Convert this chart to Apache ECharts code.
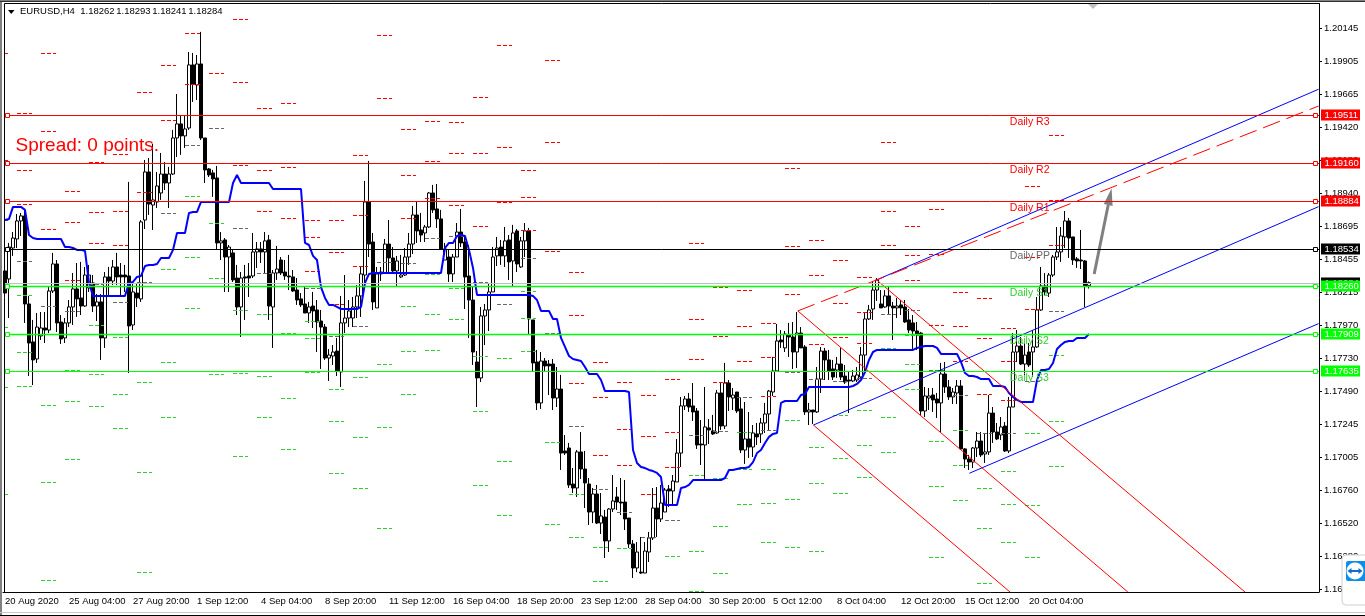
<!DOCTYPE html>
<html><head><meta charset="utf-8">
<style>html,body{margin:0;padding:0;background:#fff}#c{width:1365px;height:616px}</style>
<script src="https://cdn.jsdelivr.net/npm/echarts@6/dist/echarts.min.js"></script>
</head><body><div id="c"></div>
<script>
const tickLabels=["20 Aug 2020","25 Aug 04:00","27 Aug 20:00","1 Sep 12:00","4 Sep 04:00","8 Sep 20:00","11 Sep 12:00","16 Sep 04:00","18 Sep 20:00","23 Sep 12:00","28 Sep 04:00","30 Sep 20:00","5 Oct 12:00","8 Oct 04:00","12 Oct 20:00","15 Oct 12:00","20 Oct 04:00"];
const priceTicks=[1.20145,1.19905,1.19665,1.1942,1.1918,1.1894,1.18695,1.18455,1.18215,1.1797,1.1773,1.1749,1.17245,1.17005,1.1676,1.1652,1.1628,1.1604];
const highs=[1.1856,1.18575,1.18655,1.18787,1.18795,1.18817,1.18187,1.18011,1.18062,1.18069,
1.18069,1.18252,1.18502,1.1845,1.18047,1.18025,1.18157,1.18355,1.18428,1.18436,
1.18399,1.18414,1.1834,1.18201,1.18201,1.18362,1.18399,1.1845,1.18502,1.18428,
1.18414,1.19022,1.18282,1.18282,1.18743,1.19183,1.19197,1.193,1.19095,1.19234,
1.19168,1.19132,1.19403,1.19666,1.19512,1.19512,1.19974,1.19967,1.19952,1.20121,
1.19344,1.19124,1.1911,1.19139,1.18655,1.18611,1.1856,1.18524,1.18414,1.18362,
1.18414,1.18428,1.18648,1.18582,1.18582,1.18655,1.18633,1.18377,1.18553,1.18472,
1.1845,1.18487,1.18377,1.18318,1.18208,1.18252,1.18143,1.18216,1.18157,1.18084,
1.17981,1.17798,1.17827,1.17879,1.18187,1.1834,1.18157,1.18179,1.18267,1.18406,
1.19029,1.19176,1.18648,1.18399,1.18399,1.18604,1.18743,1.18545,1.1848,1.18487,
1.18538,1.18648,1.18846,1.18875,1.18795,1.18707,1.18948,1.19,1.19007,1.18817,
1.18575,1.18524,1.18494,1.18721,1.18824,1.18633,1.1856,1.18252,1.17783,1.18106,
1.18128,1.18282,1.18545,1.18619,1.18597,1.18692,1.18633,1.18707,1.18677,1.18619,
1.18721,1.18685,1.18011,1.17791,1.17776,1.17732,1.17718,1.17725,1.17666,1.17608,
1.17168,1.1711,1.16926,1.17058,1.1719,1.17051,1.16853,1.1678,1.16802,1.16743,
1.16619,1.16633,1.16875,1.16787,1.16853,1.16838,1.1656,1.16399,1.16384,1.16421,
1.16384,1.16458,1.1678,1.16787,1.16802,1.1678,1.16802,1.16875,1.17139,1.17447,
1.17454,1.17476,1.17549,1.17366,1.17278,1.1752,1.17285,1.17315,1.17498,1.17549,
1.17696,1.17571,1.17512,1.17483,1.17439,1.1741,1.17337,1.17241,1.17256,1.17293,
1.17403,1.17498,1.1774,1.17981,1.17937,1.1793,1.17989,1.17996,1.18069,1.17959,
1.17827,1.17403,1.17351,1.17666,1.17813,1.17806,1.17791,1.17718,1.1774,1.17806,
1.17681,1.1763,1.17644,1.17666,1.17813,1.18069,1.18121,1.18289,1.18318,1.1823,
1.1823,1.1826,1.18143,1.18172,1.18157,1.18157,1.18091,1.18047,1.17996,1.17923,
1.1752,1.17512,1.17512,1.17476,1.17696,1.17703,1.17571,1.17512,1.17571,1.17571,
1.17073,1.17022,1.1708,1.1719,1.1719,1.17183,1.17461,1.17373,1.17256,1.173,
1.17263,1.17447,1.17915,1.17937,1.17886,1.17842,1.17842,1.17937,1.18179,1.18399,
1.18355,1.18355,1.18487,1.18692,1.18692,1.18809,1.18758,1.18619,1.18472,1.1867,1.1845,1.18293];
const lows=[1.18208,1.18025,1.1848,1.18538,1.18626,1.17989,1.176,1.17534,1.17696,1.17864,
1.17842,1.17915,1.18208,1.17923,1.17835,1.17842,1.17959,1.17974,1.18033,1.18047,
1.18106,1.18216,1.18069,1.18003,1.17718,1.17806,1.18179,1.18267,1.18267,1.18179,
1.18216,1.17622,1.17937,1.18106,1.18143,1.18677,1.1878,1.1867,1.18831,1.1889,
1.18963,1.18831,1.19073,1.19205,1.1922,1.19271,1.19403,1.19608,1.19622,1.19329,
1.19014,1.19058,1.18912,1.18524,1.1845,1.18216,1.18216,1.18289,1.18047,1.17886,
1.18011,1.18179,1.18318,1.18392,1.18428,1.18355,1.18011,1.17806,1.18304,1.1834,
1.18304,1.1823,1.18216,1.18121,1.18106,1.18062,1.17989,1.17952,1.17776,1.17652,
1.17718,1.17564,1.17681,1.176,1.1752,1.17915,1.17959,1.17959,1.18025,1.18033,
1.18282,1.18472,1.18084,1.18099,1.18296,1.18348,1.18355,1.18355,1.1826,1.18318,
1.18333,1.18414,1.18494,1.18575,1.18582,1.18582,1.18685,1.18795,1.18685,1.18524,
1.1845,1.18289,1.18289,1.18472,1.18545,1.18091,1.17879,1.17681,1.17373,1.17556,
1.17827,1.1793,1.18216,1.18406,1.18414,1.18399,1.18304,1.1826,1.18362,1.18392,
1.18472,1.17908,1.1763,1.17351,1.17359,1.1763,1.17461,1.17351,1.17373,1.16912,
1.17022,1.1678,1.16743,1.16714,1.16846,1.16633,1.16509,1.16523,1.16516,1.16443,
1.16267,1.16311,1.16604,1.16619,1.16582,1.16472,1.1634,1.16121,1.16164,1.1615,
1.16157,1.16238,1.16399,1.16421,1.16531,1.16604,1.16641,1.16655,1.16824,1.16934,
1.17351,1.17337,1.17271,1.17066,1.16948,1.16846,1.17102,1.17168,1.17176,1.17205,
1.17212,1.17344,1.17351,1.17329,1.17036,1.16956,1.17,1.17007,1.17095,1.1711,
1.17183,1.17205,1.17454,1.17637,1.17806,1.17776,1.1774,1.17652,1.17659,1.17806,
1.17315,1.17241,1.17249,1.17329,1.17476,1.17571,1.17571,1.17571,1.17586,1.17571,
1.17542,1.17329,1.17556,1.17556,1.17586,1.17622,1.18011,1.18011,1.1815,1.18099,
1.18099,1.18055,1.17864,1.18025,1.18047,1.17989,1.17915,1.17791,1.17791,1.17315,
1.173,1.17351,1.17337,1.17293,1.1719,1.17476,1.17425,1.17395,1.17395,1.17058,
1.16926,1.16912,1.16926,1.17007,1.17007,1.16963,1.17022,1.1711,1.17131,1.17131,
1.17044,1.17036,1.17373,1.17703,1.17681,1.17608,1.17666,1.17593,1.17806,1.18077,
1.18194,1.18179,1.18326,1.1845,1.18436,1.18538,1.18465,1.18414,1.18392,1.18384,1.18106,1.18241];
const opens=[1.1837,1.18311,1.18538,1.18604,1.18736,1.18773,1.18128,1.1785,1.17725,1.17894,
1.17952,1.17937,1.18223,1.18421,1.17996,1.17879,1.17989,1.18106,1.18238,1.18172,
1.18113,1.18245,1.18282,1.18113,1.18143,1.17879,1.18326,1.18296,1.18399,1.1834,
1.1834,1.18333,1.17974,1.18208,1.18165,1.18743,1.19095,1.18853,1.18875,1.18941,
1.1908,1.19014,1.1908,1.19344,1.19447,1.19359,1.19417,1.19879,1.19732,1.19886,
1.19344,1.19117,1.19088,1.19051,1.18575,1.18597,1.18472,1.18502,1.18318,1.18106,
1.18326,1.18333,1.18333,1.18509,1.18531,1.18509,1.18597,1.18106,1.18355,1.1845,
1.18362,1.18333,1.18326,1.1823,1.18165,1.18128,1.18062,1.18113,1.18084,1.18003,
1.17959,1.17732,1.17747,1.17783,1.1763,1.17989,1.18025,1.18025,1.18106,1.18187,
1.1834,1.18875,1.18582,1.18099,1.18362,1.18355,1.18567,1.18465,1.1837,1.18326,
1.1834,1.18472,1.18567,1.1878,1.1867,1.18648,1.18692,1.18941,1.18824,1.18751,
1.1845,1.18472,1.18348,1.18472,1.18655,1.18582,1.18333,1.18157,1.17703,1.17586,
1.1804,1.18084,1.18216,1.1848,1.18545,1.1848,1.18597,1.18443,1.18663,1.18399,
1.1859,1.18663,1.18011,1.17703,1.17403,1.1771,1.17688,1.17688,1.17439,1.17505,
1.17051,1.17073,1.16809,1.1678,1.17044,1.16919,1.16809,1.16604,1.16736,1.16523,
1.16567,1.16392,1.16626,1.16714,1.16677,1.16677,1.1656,1.1637,1.16194,1.16164,
1.16157,1.16311,1.16414,1.16633,1.16553,1.16604,1.16773,1.16758,1.16824,1.17036,
1.17381,1.17432,1.17381,1.17344,1.17102,1.17095,1.1722,1.17198,1.17183,1.17476,
1.17234,1.17549,1.17439,1.17483,1.17359,1.17058,1.17139,1.1708,1.17176,1.17176,
1.17256,1.17322,1.17483,1.17637,1.17864,1.17806,1.17901,1.17886,1.17776,1.17915,
1.17813,1.17337,1.17351,1.17337,1.17578,1.17783,1.17718,1.17652,1.17644,1.17688,
1.176,1.17571,1.17564,1.17571,1.17593,1.17754,1.18018,1.18091,1.1823,1.18128,
1.18106,1.18187,1.18113,1.18099,1.18121,1.18106,1.18011,1.17989,1.1793,1.17915,
1.17344,1.17439,1.17461,1.17432,1.17403,1.17615,1.1752,1.17447,1.17476,1.17527,
1.17066,1.16992,1.1697,1.17073,1.17124,1.17029,1.17044,1.17329,1.1719,1.17168,
1.17234,1.17051,1.17373,1.17776,1.1782,1.17688,1.17776,1.17776,1.17813,1.18084,
1.1826,1.18208,1.1834,1.18472,1.18509,1.18619,1.18736,1.18619,1.18458,1.1845,1.18443,1.18262];
const closes=[1.18208,1.18545,1.18611,1.18736,1.18773,1.18128,1.17842,1.17718,1.17959,1.17952,
1.17937,1.18223,1.18421,1.17989,1.17872,1.17989,1.18106,1.18238,1.18165,1.18113,
1.1834,1.1834,1.18113,1.18143,1.17879,1.18326,1.18296,1.18399,1.18326,1.18326,
1.18326,1.17967,1.18216,1.18172,1.18729,1.19095,1.1886,1.1889,1.18992,1.1908,
1.19014,1.1908,1.19344,1.19447,1.19359,1.1941,1.19879,1.1974,1.19886,1.19344,
1.1911,1.19073,1.19044,1.18575,1.1859,1.18472,1.18545,1.18304,1.18106,1.18318,
1.18318,1.18318,1.18509,1.18531,1.18509,1.1859,1.18113,1.18355,1.18384,1.18355,
1.18333,1.18326,1.18223,1.18157,1.18121,1.18062,1.18106,1.18077,1.17996,1.17959,
1.17732,1.17754,1.17776,1.17637,1.17989,1.18025,1.18077,1.18106,1.18187,1.18348,
1.18875,1.18567,1.18143,1.18348,1.18348,1.18567,1.18465,1.1837,1.18443,1.1834,
1.18472,1.18567,1.1878,1.18663,1.18633,1.18692,1.18941,1.18817,1.18751,1.18531,
1.18531,1.18348,1.18472,1.18655,1.18575,1.18326,1.18157,1.17776,1.17586,1.1804,
1.18084,1.18216,1.18472,1.18538,1.1848,1.1859,1.18436,1.18648,1.18421,1.1859,
1.18663,1.18018,1.17696,1.17403,1.1771,1.17674,1.17674,1.17439,1.17505,1.17036,
1.17036,1.16802,1.1678,1.17044,1.16919,1.16817,1.16604,1.16736,1.16523,1.16575,
1.16392,1.16626,1.16685,1.16677,1.1667,1.16553,1.1637,1.16194,1.16311,1.16157,
1.16318,1.16414,1.16633,1.16553,1.1667,1.16765,1.16758,1.16831,1.17036,1.17381,
1.17432,1.17373,1.17337,1.17095,1.17095,1.17227,1.17205,1.17176,1.17476,1.17234,
1.17549,1.17447,1.17461,1.17344,1.17058,1.17139,1.1708,1.17183,1.17154,1.17256,
1.17322,1.1749,1.17637,1.17857,1.1785,1.17908,1.17886,1.17776,1.17915,1.17806,
1.17337,1.17351,1.17337,1.17578,1.17783,1.17718,1.17637,1.17593,1.17688,1.17593,
1.17556,1.17564,1.176,1.17608,1.17754,1.18018,1.18084,1.1823,1.18304,1.18099,
1.18187,1.18113,1.18099,1.18113,1.18099,1.17996,1.17937,1.1793,1.17908,1.17344,
1.17454,1.17454,1.17425,1.17403,1.17615,1.1752,1.17447,1.17483,1.17527,1.17066,
1.16992,1.1697,1.17073,1.17124,1.17022,1.17044,1.17329,1.1719,1.17139,1.17227,
1.17051,1.17373,1.17776,1.1782,1.17688,1.17754,1.17681,1.17813,1.18084,1.1826,
1.18216,1.1834,1.18472,1.18509,1.18626,1.18736,1.18611,1.1845,1.18443,1.18443,1.1826,1.18284];
const kijun=[1.18743,1.18751,1.18839,1.18839,1.18839,1.18817,1.18633,1.18611,1.18604,1.18604,1.18604,1.18604,1.18604,1.18604,1.18604,1.18545,1.18545,1.18538,1.18524,1.18524,1.18516,1.18282,
1.18187,1.18187,1.18187,1.18187,1.18187,1.18187,1.18187,1.18187,1.18187,1.18282,1.18289,1.18326,1.18333,1.18406,1.18414,1.18414,1.18421,1.18465,1.18465,1.18465,1.18524,1.18648,1.18648,1.18648,1.18795,1.18802,1.18802,
1.18875,1.18875,1.18875,1.18875,1.18875,1.18875,1.18875,1.18875,1.19014,1.19073,1.19014,1.19014,1.19014,1.19014,1.19014,1.19014,1.19014,1.19014,1.1897,1.1897,1.1897,1.1897,1.1897,1.1897,1.1897,1.1897,
1.18575,1.1856,1.1848,1.1845,1.18252,1.18172,1.18121,1.18121,1.18106,
1.18091,1.18091,1.18091,1.18091,1.18091,1.18106,1.18282,1.18348,1.18355,1.18355,1.18355,1.18355,1.18355,1.18355,1.18355,1.18355,1.18355,1.18355,1.18355,1.18355,1.18355,1.18355,1.18355,1.18355,1.18355,1.18355,
1.18538,1.18575,1.18575,1.18626,1.18633,1.18626,1.18524,1.18392,1.18194,1.18194,1.18194,1.18194,1.18194,1.18194,1.18194,1.18194,1.18194,1.18194,1.18194,1.18194,1.18194,1.18194,1.18187,1.18157,1.18077,1.18077,1.18077,1.18018,1.18018,
1.17879,1.17813,1.17747,1.17725,1.17718,1.1771,1.17666,1.17615,1.17615,1.17615,1.17571,1.1749,1.1749,1.1749,1.1749,1.1749,1.1749,1.17483,1.17058,1.16963,1.16934,1.16926,1.16912,1.16904,1.1689,1.1686,
1.16655,1.16655,1.16655,1.16655,1.1678,1.16787,1.16802,1.16838,1.16838,1.16838,1.16838,1.16838,1.16838,1.16838,1.16838,1.16853,1.16912,1.16912,1.16919,1.16926,1.16926,1.16934,1.1697,1.17036,1.17058,1.1711,1.17154,1.17176,1.17183,1.17403,
1.17417,1.17417,1.17417,1.17417,1.17461,1.17469,1.1752,1.1752,1.1752,1.1752,1.1752,1.1752,1.1752,1.1752,1.1752,1.1752,1.1752,1.17527,1.17542,1.17571,1.1763,1.17718,1.17776,
1.17791,1.17791,1.17791,1.17791,1.17791,1.17791,1.17791,1.17791,1.17791,1.17791,1.17806,1.17813,1.1782,1.1782,1.1782,1.17806,1.17762,1.17762,1.17762,1.17762,1.17762,1.17703,1.17622,1.176,1.176,1.17593,1.17578,1.17578,1.17578,
1.17527,1.17527,1.17527,1.1752,1.17476,1.17447,1.17425,1.1741,1.1741,1.1741,1.1741,1.17571,1.17644,1.17644,1.17652,1.17696,1.17798,1.17827,1.1785,1.17857,1.17857,1.17879,1.17879,1.17879,1.17908];
const dailyR3=[null,1.19527,1.19967,1.18956,1.19168,1.19227,null,null,null,null,1.20216,1.19564,1.196,1.18743,1.18743,1.1922,1.20099,1.1941,1.19469,1.19461,1.19644,1.20025,1.1911,1.19915,1.18362,1.17703,1.17556,1.17461,1.17578,1.18575,1.18252,1.1823,1.17989,1.19124,1.18597,1.1845,1.18326,1.19315,1.18699,1.18824,1.18216,1.18172,1.17952,1.18992,1.19366,1.19511];
const dailyR2=[1.19967,1.1911,1.19395,1.18729,1.18802,1.18809,1.19681,1.19879,1.20113,null,1.19754,1.1911,1.19132,1.18619,1.18509,1.1878,1.19637,1.19073,1.19176,1.19234,1.19234,1.19278,1.18912,1.19315,1.18047,1.17447,1.17212,1.17161,1.1719,1.18018,1.17894,1.17967,1.1774,1.18553,1.1834,1.18135,1.18069,1.18809,1.18487,1.18494,1.17967,1.17879,1.1771,1.18472,1.1889,1.1916];
const dailyR1=[1.19183,1.1886,1.18677,1.18304,1.18575,1.1856,1.18948,1.19476,1.1974,1.1982,1.19146,1.18809,1.18758,1.1837,1.18128,1.18406,1.18882,1.18758,1.18904,1.18853,1.18699,1.18875,1.1867,1.18516,1.17549,1.17022,1.16948,1.16736,1.16934,1.17725,1.17556,1.1771,1.17454,1.18201,1.17835,1.17886,1.17842,1.1856,1.18304,1.17974,1.1771,1.17468,1.17425,1.18091,1.1856,1.18884];
const dailyPP=[1.18743,1.18443,1.18113,1.18077,1.18274,1.18143,1.18289,1.18795,1.19293,1.19417,1.18685,1.18355,1.18282,1.18245,1.17894,1.17967,1.18436,1.18428,1.18611,1.18626,1.18289,1.18128,1.18465,1.17915,1.17234,1.16773,1.16604,1.16421,1.16545,1.17168,1.17198,1.17447,1.17205,1.1763,1.17578,1.17564,1.17586,1.18055,1.18084,1.17644,1.17461,1.17183,1.17183,1.17564,1.18077,1.18534];
const dailyS1=[1.17959,1.18194,1.17388,1.17644,1.17974,1.17886,1.17556,1.18384,1.18919,1.18721,1.18084,1.18055,1.17915,1.18003,1.17505,1.17593,1.17688,1.18113,1.18348,1.18245,1.17747,1.17732,1.18223,1.17117,1.16736,1.16348,1.1634,null,1.16282,1.16875,1.16853,1.1719,1.16919,1.17278,1.1708,1.17315,1.17351,1.17806,1.17901,1.17124,1.17205,1.1678,1.16904,1.17183,1.17754,1.1826];
const dailyS2=[1.1752,1.17776,1.16824,1.17417,1.17615,1.17469,1.16897,1.17703,1.18472,1.18318,1.17622,1.176,1.17439,1.17879,1.17271,1.17154,1.17227,1.17783,1.18055,1.18018,1.17344,1.16978,1.18025,1.16516,1.16421,1.16099,null,null,null,1.16318,1.16501,1.16919,1.1667,1.16699,1.16817,1.17,1.17095,1.173,1.17688,1.16795,1.16948,1.16487,1.16663,1.16655,1.17271,1.17909];
const dailyS3=[1.16736,1.17527,1.16106,1.16992,1.17381,1.1722,1.16164,1.173,1.18099,1.17615,1.17014,1.173,1.17066,1.1763,1.1689,1.1678,1.16487,1.17469,1.17791,1.17637,1.16802,1.16582,1.17783,null,null,null,null,null,null,1.16025,1.16157,1.16663,1.16384,1.16348,1.16318,1.16743,1.1686,1.17044,1.17505,1.16274,1.16692,1.16084,1.16384,1.16274,1.16941,1.17635];
const levelPrices=[1.18284,1.19511,1.1916,1.18884,1.18534,1.1826,1.17909,1.17635];
const levelNames=["","Daily R3","Daily R2","Daily R1","Daily PP","Daily S1","Daily S2","Daily S3"];
const levelColors=["#c0c0c0","#ff0000","#ff0000","#ff0000","#000000","#00ff00","#00ff00","#00ff00"];
const tagColors=["#000000","#ff0000","#ff0000","#ff0000","#000000","#00ff00","#00ff00","#00ff00"];
const nameColors=["","#ff0000","#ff0000","#ff0000","#696969","#32cd32","#32cd32","#32cd32"];
const blueUpper=[[217.9,1.18304],[328.4,1.19701]];
const blueMiddle=[[202.1,1.17241],[328.4,1.18841]];
const blueLower=[[241.1,1.16888],[328.4,1.17984]];
const redDashed=[[198.2,1.18077],[328.4,1.19578]];
const redA=[[217.9,1.18304],[310,1.16018]];
const redB=[[198.2,1.18077],[280.7,1.16018]];
const redC=[[202.1,1.17241],[251.25,1.16018]];
const arrowPoints=[[272.3,1.18348,276.65,1.18975]];
const headerQuote=["1.18262","1.18293","1.18241","1.18284"];

const FONT='"Liberation Sans",Arial,sans-serif';
const totalBands=329;
const categories=[];for(let i=0;i<totalBands;i++){categories.push(i%16===0&&tickLabels[i/16]?tickLabels[i/16]:"");}
const showTick=i=>i%16===0&&!!tickLabels[i/16];
const candleData=opens.map((o,i)=>[o,closes[i],lows[i],highs[i]]);
const pivotRows=[[dailyR3,"#ff0000"],[dailyR2,"#ff0000"],[dailyR1,"#ff0000"],[dailyPP,"#696969"],[dailyS1,"#32cd32"],[dailyS2,"#32cd32"],[dailyS3,"#32cd32"]];
const pivotData=[];
pivotRows.forEach((row,r)=>row[0].forEach((p,d)=>{if(p!=null)pivotData.push([-3+6*d,p,r]);}));
const mkLine=(name,data,color,type)=>({name,type:'line',xAxisIndex:1,yAxisIndex:0,data,symbol:'none',silent:true,z:4,clip:true,
  lineStyle:{color,width:1,type:type||'solid'},itemStyle:{color}});

const chart=echarts.init(document.getElementById('c'),null,{renderer:'canvas'});
chart.setOption({
 animation:false,backgroundColor:'#ffffff',textStyle:{fontFamily:FONT},
 grid:{left:3,right:46,top:3.5,bottom:24,containLabel:false},
 xAxis:[{type:'category',data:categories,boundaryGap:true,
   axisLine:{lineStyle:{color:'#000',width:1}},
   axisTick:{alignWithLabel:true,interval:(i)=>showTick(i),length:3,lineStyle:{color:'#000'}},
   axisLabel:{interval:(i)=>showTick(i),align:'left',margin:4,fontSize:9.5,color:'#000',fontFamily:FONT,hideOverlap:false,showMinLabel:true},
   splitLine:{show:false}},
  {type:'value',min:-0.5,max:328.5,show:false,splitLine:{show:false}}],
 yAxis:[{type:'value',position:'right',min:1.16018,max:1.20329,scale:true,
   axisLine:{show:true,onZero:false,lineStyle:{color:'#000',width:1}},
   axisTick:{show:true,length:3,customValues:priceTicks,lineStyle:{color:'#000'}},
   axisLabel:{customValues:priceTicks,margin:5,fontSize:9.5,color:'#000',fontFamily:FONT,formatter:v=>v.toFixed(5),showMinLabel:true,showMaxLabel:true},
   splitLine:{show:false}}],
 series:[
  {name:'EURUSD',type:'candlestick',data:candleData,barWidth:3,z:2,silent:true,
   itemStyle:{color:'#ffffff',color0:'#000000',borderColor:'#000000',borderColor0:'#000000',borderWidth:1}},
  {name:'Pivots',type:'custom',xAxisIndex:1,yAxisIndex:0,data:pivotData,clip:true,silent:true,z:3,
   renderItem:(params,api)=>{const a=api.coord([api.value(0),api.value(1)]);const b=api.coord([api.value(0)+3.75,api.value(1)]);
    const y=Math.round(a[1])+.5;
    return {type:'line',shape:{x1:a[0],y1:y,x2:b[0],y2:y},style:{stroke:pivotRows[api.value(2)][1],lineWidth:1,lineDash:[4,2]}};}},
  {name:'Baseline',type:'line',data:kijun,symbol:'none',silent:true,z:4,lineStyle:{color:'#0000ff',width:2},itemStyle:{color:'#0000ff'}},
  mkLine('Channel upper',blueUpper,'#0000ff'),
  mkLine('Channel middle',blueMiddle,'#0000ff'),
  mkLine('Channel lower',blueLower,'#0000ff'),
  mkLine('Fork median',redDashed,'#ff0000',[18,7]),
  mkLine('Fork A',redA,'#ff0000'),
  mkLine('Fork B',redB,'#ff0000'),
  mkLine('Fork C',redC,'#ff0000'),
  {name:'Arrow',type:'custom',xAxisIndex:1,yAxisIndex:0,data:arrowPoints,clip:false,silent:true,z:5,
   renderItem:(params,api)=>{const a=api.coord([api.value(0),api.value(1)]),b=api.coord([api.value(2),api.value(3)]);
    const dx=b[0]-a[0],dy=b[1]-a[1],l=Math.hypot(dx,dy),ux=dx/l,uy=dy/l,nx=-uy,ny=ux;
    const bx=b[0]-ux*17,by=b[1]-uy*17;
    return {type:'group',children:[
     {type:'line',shape:{x1:a[0],y1:a[1],x2:bx,y2:by},style:{stroke:'#808080',lineWidth:3}},
     {type:'polygon',shape:{points:[[b[0],b[1]],[bx+nx*4.5,by+ny*4.5],[bx-nx*4.5,by-ny*4.5]]},style:{fill:'#808080'}}]};}},
  {name:'Levels',type:'custom',xAxisIndex:1,yAxisIndex:0,data:levelPrices.map((p,i)=>[0,p,i]),clip:false,silent:true,z:6,
   renderItem:(params,api)=>{const i=api.value(2),p=api.value(1);const c=api.coord([0,p]);const y=Math.round(c[1])+.5;
    const cs=params.coordSys,x0=cs.x+1.5,x1=cs.x+cs.width;const col=levelColors[i];
    const kids=[{type:'line',shape:{x1:x0,y1:y,x2:x1,y2:y},style:{stroke:col,lineWidth:(i===5||i===6)?1.4:1}}];
    if(i>0){[x0+1,x1-5.5].forEach(x=>kids.push({type:'rect',shape:{x:x,y:y-2,width:4,height:4},style:{fill:'#fff',stroke:col,lineWidth:1}}));
     const t=api.coord([251.2,p]);
     kids.push({type:'text',style:{x:t[0],y:y+7,text:levelNames[i],fill:nameColors[i],font:'10.5px '+FONT,verticalAlign:'middle',align:'left'}});}
    kids.push({type:'rect',shape:{x:1321,y:y-6,width:39,height:11},style:{fill:tagColors[i]}});
    kids.push({type:'text',style:{x:1324.5,y:y,text:p.toFixed(5),fill:'#fff',font:'9.5px '+FONT,verticalAlign:'middle',align:'left'}});
    return {type:'group',children:kids};}}
 ],
 graphic:{elements:[
  {type:'rect',z:100,silent:true,shape:{x:0,y:0,width:2,height:616},style:{fill:'#808080'}},
  {type:'rect',z:100,silent:true,shape:{x:0,y:0,width:1365,height:1},style:{fill:'#808080'}},
  {type:'rect',z:100,silent:true,shape:{x:0,y:1,width:1365,height:1},style:{fill:'#303030'}},
  {type:'line',z:100,silent:true,shape:{x1:4.5,y1:3.5,x2:1319,y2:3.5},style:{stroke:'#000',lineWidth:1}},
  {type:'line',z:100,silent:true,shape:{x1:4.5,y1:3.5,x2:4.5,y2:592},style:{stroke:'#000',lineWidth:1}},
  {type:'rect',z:100,silent:true,shape:{x:0,y:612,width:1365,height:1},style:{fill:'#c8c8c8'}},
  {type:'rect',z:100,silent:true,shape:{x:0,y:615,width:1365,height:1},style:{fill:'#000'}},
  {type:'polygon',z:100,silent:true,shape:{points:[[1088,4],[1098,4],[1093,9]]},style:{fill:'#c0c0c0'}},
  {type:'polygon',z:100,silent:true,shape:{points:[[8,10],[14.5,10],[11.2,14]]},style:{fill:'#000'}},
  {type:'text',z:100,silent:true,style:{x:20,y:11.5,text:'EURUSD,H4',fill:'#000',font:'9.5px '+FONT,verticalAlign:'middle'}},
  {type:'text',z:100,silent:true,style:{x:80.3,y:11.5,text:headerQuote[0],fill:'#000',font:'9.5px '+FONT,verticalAlign:'middle'}},
  {type:'text',z:100,silent:true,style:{x:116.3,y:11.5,text:headerQuote[1],fill:'#000',font:'9.5px '+FONT,verticalAlign:'middle'}},
  {type:'text',z:100,silent:true,style:{x:152.3,y:11.5,text:headerQuote[2],fill:'#000',font:'9.5px '+FONT,verticalAlign:'middle'}},
  {type:'text',z:100,silent:true,style:{x:188.3,y:11.5,text:headerQuote[3],fill:'#000',font:'9.5px '+FONT,verticalAlign:'middle'}},
  {type:'text',z:100,silent:true,style:{x:15.5,y:146,text:'Spread: 0 points.',fill:'#ff0000',font:'19px '+FONT,verticalAlign:'middle'}},
  {type:'rect',z:110,silent:true,shape:{x:1342,y:555,width:30,height:50,r:4},style:{fill:'#ffffff',stroke:'#d0d0d0',lineWidth:1}},
  {type:'rect',z:111,silent:true,shape:{x:1346,y:561,width:22,height:20,r:2},style:{fill:'#0e8ee9'}},
  {type:'circle',z:112,silent:true,shape:{cx:1355,cy:571,r:8.5},style:{fill:'#ffffff'}},
  {type:'line',z:113,silent:true,shape:{x1:1349.5,y1:571,x2:1360.5,y2:571},style:{stroke:'#0e6ec9',lineWidth:2}},
  {type:'polygon',z:113,silent:true,shape:{points:[[1347.5,571],[1351.5,568],[1351.5,574]]},style:{fill:'#0e6ec9'}},
  {type:'polygon',z:113,silent:true,shape:{points:[[1362.5,571],[1358.5,568],[1358.5,574]]},style:{fill:'#0e6ec9'}}
 ]}
});
</script></body></html>
